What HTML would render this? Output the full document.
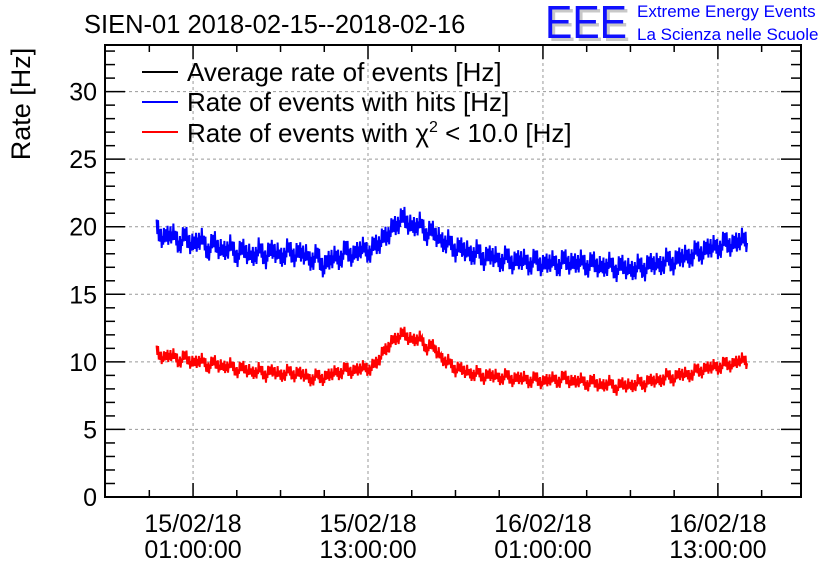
<!DOCTYPE html>
<html><head><meta charset="utf-8"><style>
body{margin:0;background:#fff;}
svg{display:block;font-family:"Liberation Sans",sans-serif;}
</style></head><body>
<svg id="chart" width="836" height="572">
  <text x="84" y="33" font-size="25.5">SIEN-01 2018-02-15--2018-02-16</text>
  <g>
    <text x="548" y="41" font-size="46" fill="#c8c8c8" textLength="82" lengthAdjust="spacingAndGlyphs">EEE</text>
    <text x="545" y="38" font-size="46" fill="#1010ff" textLength="82" lengthAdjust="spacingAndGlyphs">EEE</text>
    <text x="637" y="17" font-size="17" fill="#0000ff">Extreme Energy Events</text>
    <text x="637" y="40" font-size="17" fill="#0000ff">La Scienza nelle Scuole</text>
  </g>
  <text transform="translate(30,104) rotate(-90)" text-anchor="middle" font-size="27">Rate [Hz]</text>
  <g id="grid"></g><g id="series"></g><g id="axes"></g>
  <g>
    <g><line x1="142" y1="72" x2="178" y2="72" stroke="#000" stroke-width="2"/><text x="187" y="81" font-size="26">Average rate of events [Hz]</text></g>
    <g><line x1="142" y1="102" x2="178" y2="102" stroke="#00f" stroke-width="2"/><text x="187" y="111" font-size="26">Rate of events with hits [Hz]</text></g>
    <g><line x1="142" y1="132" x2="178" y2="132" stroke="#f00" stroke-width="2"/><text x="187" y="142" font-size="26">Rate of events with χ<tspan font-size="16" dy="-10">2</tspan><tspan dy="10"> &lt; 10.0 [Hz]</tspan></text></g>
  </g>
</svg>
<script>
// hours since 15/02/18 01:00:00
const tStart = -2.5;
const tStep = 0.5;
const hitsRate = [19.9,19.0,19.6,18.7,19.3, 18.5,19.2,18.2,18.9,18.0, 18.6,17.8,18.4,17.6,18.3, 17.7,18.4,17.6,18.3,17.8,
 18.2,17.4,17.9,16.9,17.8, 17.5,18.3,17.7,18.5,18.0, 18.6,19.0,19.6,20.2,20.7, 19.8,20.3,19.4,19.7,18.8,
 18.9,18.2,18.5,17.8,18.2, 17.5,18.0,17.3,17.8,17.2, 17.7,17.1,17.6,17.0,17.5, 17.0,17.6,17.1,17.5,17.0,
 17.4,16.8,17.3,16.7,17.2, 16.6,17.1,16.8,17.4,17.0, 17.6,17.2,17.9,17.6,18.2, 18.0,18.6,18.3,18.9,18.5, 19.1,18.8];
const chi2Rate = [10.8,10.2,10.6,10.0,10.4, 9.8,10.2,9.6,10.0,9.5, 9.8,9.3,9.6,9.1,9.4, 9.0,9.4,8.9,9.3,9.0,
 9.2,8.6,9.0,8.7,9.2, 9.1,9.5,9.2,9.6,9.4, 9.8,10.6,11.3,11.8,12.1, 11.5,11.8,11.0,11.2,10.2,
 10.0,9.4,9.5,9.0,9.2, 8.8,9.1,8.7,9.0,8.6, 8.9,8.5,8.8,8.4,8.8, 8.5,8.9,8.4,8.7,8.3,
 8.6,8.1,8.5,8.0,8.4, 8.1,8.5,8.3,8.7,8.5, 9.0,8.7,9.2,8.9,9.4, 9.3,9.7,9.5,9.9,9.7, 10.2,9.9];
const yTicks = [0,5,10,15,20,25,30];
const xTickHours = [0,12,24,36];
const xTickDates = ["15/02/18","15/02/18","16/02/18","16/02/18"];
const xTickTimes = ["01:00:00","13:00:00","01:00:00","13:00:00"];

const L=105,R=801,T=45,B=497;
const xMin=-6.04,xMax=41.7,yMin=0,yMax=33.45;
const X=h=>L+(h-xMin)/(xMax-xMin)*(R-L);
const Y=v=>B-(v-yMin)/(yMax-yMin)*(B-T);
const NS="http://www.w3.org/2000/svg";
function mk(tag,attrs,parent){const e=document.createElementNS(NS,tag);for(const k in attrs)e.setAttribute(k,attrs[k]);parent.appendChild(e);return e;}
const grid=document.getElementById('grid'),axes=document.getElementById('axes'),series=document.getElementById('series');
yTicks.forEach(v=>{
  if(v>0){const g=mk('line',{x1:L,x2:R,y1:Y(v),y2:Y(v),stroke:'#999','stroke-dasharray':'3,3'},grid);
  
  }
  const t=mk('text',{x:L-8,y:Y(v)+9,'text-anchor':'end','font-size':'25'},axes);t.textContent=v;
  
  
});
for(let v=0;v<=33;v++){const len=v%5===0?20:10;
  mk('line',{x1:L,x2:L+len,y1:Y(v),y2:Y(v),stroke:'#000','stroke-width':1.5},axes);
  mk('line',{x1:R,x2:R-len,y1:Y(v),y2:Y(v),stroke:'#000','stroke-width':1.5},axes);}
xTickHours.forEach((h,i)=>{
  const g=mk('line',{x1:X(h),x2:X(h),y1:T,y2:B,stroke:'#999','stroke-dasharray':'3,3'},grid);
  
  
  const t1=mk('text',{x:X(h),y:532,'text-anchor':'middle','font-size':'25'},axes);t1.textContent=xTickDates[i];
  
  
  const t2=mk('text',{x:X(h),y:558,'text-anchor':'middle','font-size':'25'},axes);t2.textContent=xTickTimes[i];
  
  
});
for(let h=-3;h<=41;h+=3){const len=h%12===0?14:7;
  mk('line',{x1:X(h),x2:X(h),y1:B,y2:B-len,stroke:'#000','stroke-width':1.5},axes);
  mk('line',{x1:X(h),x2:X(h),y1:T,y2:T+len,stroke:'#000','stroke-width':1.5},axes);}
const fr=mk('rect',{x:L,y:T,width:R-L,height:B-T,fill:'none',stroke:'#000','stroke-width':2},axes);


const wiggle=[0.9,-0.5,1.1,-1.0,0.4,-0.8,0.7,-1.2,0.2,-0.6,1.3,-0.3,0.5];
function drawSeries(vals,color,spread,name){
  const g=mk('g',{},series);
  
  
  const n=vals.length,sub=10;let pts=[],c=0;
  for(let i=0;i<n;i++){
    const x=X(tStart+i*tStep);
    if(i<n-1){const dx=(X(tStart+(i+1)*tStep)-x)/sub;
      for(let k=0;k<sub;k++){const v=vals[i]+(vals[i+1]-vals[i])*k/sub+wiggle[(c++)%wiggle.length]*spread;pts.push((x+k*dx)+','+Y(v));}}
    else pts.push(x+','+Y(vals[i]));
  }
  mk('polyline',{points:pts.join(' '),fill:'none',stroke:color,'stroke-width':2},g);
}
drawSeries(hitsRate,'#0000ff',0.7,'series-hits');
drawSeries(chi2Rate,'#ff0000',0.45,'series-chi2');
</script>
</body></html>
